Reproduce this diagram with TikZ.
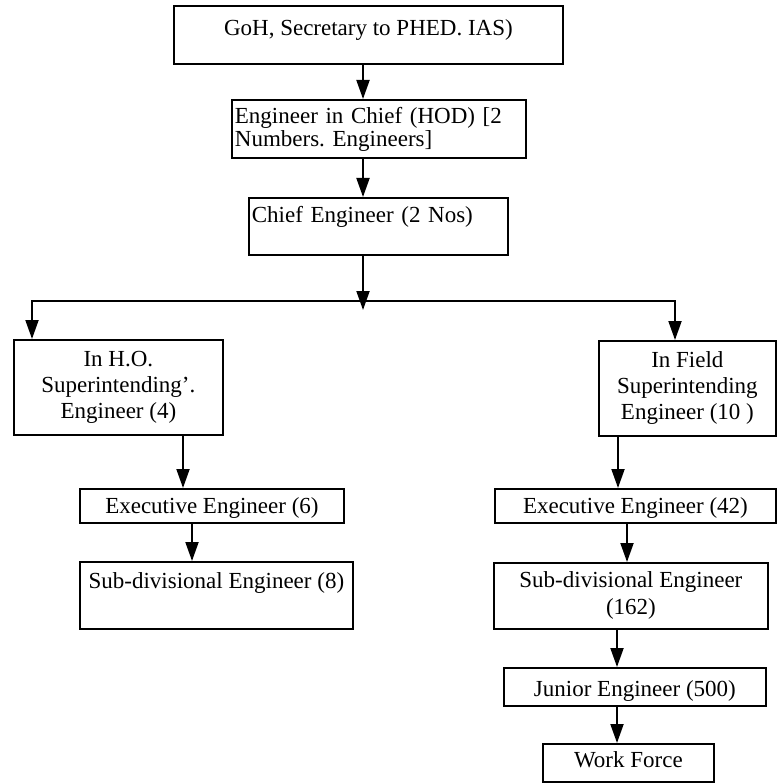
\documentclass[tikz,border=0pt]{standalone}
\usepackage{fontspec}
\setmainfont{Liberation Serif}
\usetikzlibrary{arrows.meta}
\frenchspacing
\begin{document}
\begin{tikzpicture}[x=1pt,y=-1pt,
  box/.style={draw, line width=1.8pt, inner xsep=3pt, inner ysep=0pt,
    anchor=north west, font=\fontsize{23}{26}\selectfont},
  th/.style 2 args={text height=#1pt, text depth=#2pt},
  arr/.style={line width=1.9pt, -{Triangle[length=19pt,width=13pt]}},
  arrboth/.style={line width=1.9pt, line join=miter,
    {Triangle[length=19pt,width=13pt]}-{Triangle[length=19pt,width=13pt]}},
]
\useasboundingbox (0,0) rectangle (776,783);

% top of the hierarchy
\node[box, minimum width=389pt, th={29.6}{28.4}] (goh) at (173,5)
  {GoH, Secretary to PHED. IAS)};
\node[box, minimum width=294pt, minimum height=58pt, text width=288pt,
  align=left, font=\fontsize{23}{23}\selectfont] (eic) at (231,99)
  {Engineer in Chief (HOD) [2\\Numbers. Engineers]};
\node[box, minimum width=259pt, text width=253pt, align=left,
  th={24.6}{32.4}] (ce) at (248,197) {Chief Engineer (2 Nos)};

% head office branch
\node[box, minimum width=209pt, minimum height=95pt, align=center] (ho)
  at (13,339) {In H.O.\\Superintending'.\\Engineer (4)};
\node[box, minimum width=264pt, th={24.6}{9.4}] (ex6) at (79,488)
  {Executive Engineer (6)};
\node[box, minimum width=273pt, th={27}{40}] (sub8) at (79,561)
  {Sub-divisional Engineer (8)};

% field branch
\node[box, minimum width=177pt, minimum height=95pt, align=center] (field)
  at (598,340) {In Field\\Superintending\\Engineer (10 )};
\node[box, minimum width=281pt, th={24.6}{9.4}] (ex42) at (494,488)
  {Executive Engineer (42)};
\node[box, minimum width=274pt, minimum height=66pt, align=center,
  font=\fontsize{23}{27}\selectfont] (sub162) at (493,562)
  {Sub-divisional Engineer\\(162)};
\node[box, minimum width=262pt, th={28.5}{9.5}] (jr) at (503,667)
  {Junior Engineer (500)};
\node[box, minimum width=171pt, th={24}{14}] (wf) at (542,743)
  {Work Force};

% connector columns
\coordinate (xA) at (363,0);
\coordinate (xHO) at (183,0);
\coordinate (xE6) at (192,0);
\coordinate (xF) at (618,0);
\coordinate (xE42) at (627,0);
\coordinate (xS) at (617,0);
\coordinate (bl) at (32,301);
\coordinate (br) at (675,301);
\coordinate (tj) at (363,310);

\draw[arr] (goh.south -| xA) -- (eic.north -| xA);
\draw[arr] (eic.south -| xA) -- (ce.north -| xA);
\draw[arr] (ce.south -| xA) -- (tj);
\draw[arrboth] (ho.north -| bl) -- (bl) -- (br) -- (field.north -| br);

\draw[arr] (ho.south -| xHO) -- (ex6.north -| xHO);
\draw[arr] (ex6.south -| xE6) -- (sub8.north -| xE6);

\draw[arr] (field.south -| xF) -- (ex42.north -| xF);
\draw[arr] (ex42.south -| xE42) -- (sub162.north -| xE42);
\draw[arr] (sub162.south -| xS) -- (jr.north -| xS);
\draw[arr] (jr.south -| xS) -- (wf.north -| xS);
\end{tikzpicture}
\end{document}
